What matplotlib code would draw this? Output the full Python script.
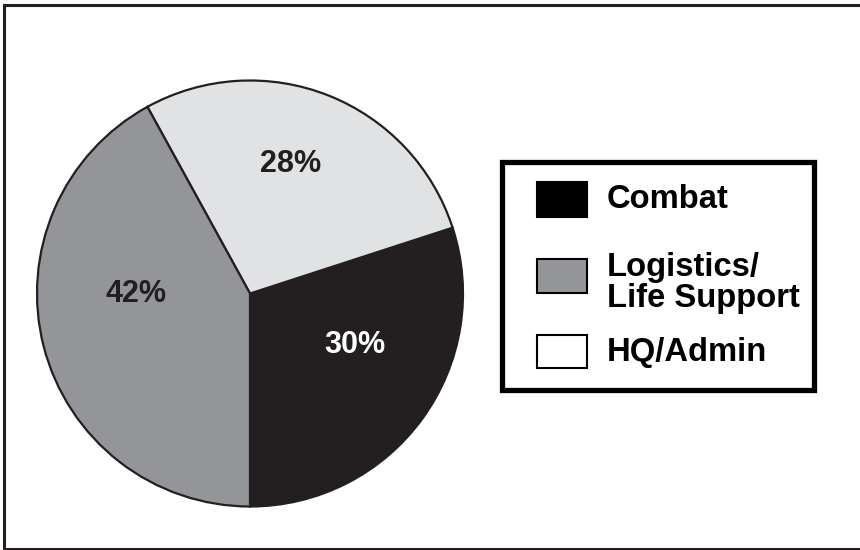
import matplotlib
matplotlib.use("Agg")
import matplotlib.pyplot as plt
from matplotlib.patches import Rectangle

categories = ["Combat", "HQ/Admin", "Logistics/\nLife Support"]
shares = [30, 28, 42]
pct_labels = ["30%", "28%", "42%"]
legend_order = ["Combat", "Logistics/\nLife Support", "HQ/Admin"]

DARK = "#231f20"
colors = {"Combat": DARK, "HQ/Admin": "#e1e2e4", "Logistics/\nLife Support": "#939598"}
legend_colors = {"Combat": "#000000", "HQ/Admin": "#ffffff", "Logistics/\nLife Support": "#939598"}
pct_colors = {"Combat": "white", "HQ/Admin": DARK, "Logistics/\nLife Support": DARK}

plt.rcParams['font.family'] = ['Liberation Sans', 'DejaVu Sans']

W, H = 860, 550
fig = plt.figure(figsize=(W / 100, H / 100), dpi=100)

# overlay in pixel coordinates
ov = fig.add_axes([0, 0, 1, 1])
ov.set_xlim(0, W)
ov.set_ylim(H, 0)
ov.axis("off")

# outer frame (open on the right)
ov.plot([W + 5, 4, 4, W + 5], [5, 5, 549, 549], color=DARK, lw=2.2,
        solid_joinstyle="miter", clip_on=False)

# pie
cx, cy, r = 250, 293.5, 213
pax = fig.add_axes([(cx - r) / W, (H - cy - r) / H, 2 * r / W, 2 * r / H])
wedges, _ = pax.pie(shares, colors=[colors[c] for c in categories], startangle=270,
                    counterclock=True, radius=1,
                    wedgeprops=dict(edgecolor=DARK, linewidth=1.6))
pax.set_xlim(-1, 1)
pax.set_ylim(-1, 1)
pax.set_aspect("equal")
pax.axis("off")

# percentage label positions (layout offsets, in pie radius units)
label_pos = {"Combat": (0.49, -0.24), "HQ/Admin": (0.19, 0.61), "Logistics/\nLife Support": (-0.535, 0.0)}
for c, p in zip(categories, pct_labels):
    x, y = label_pos[c]
    pax.text(x, y, p, ha="center", va="center", fontsize=22, fontweight="bold",
             color=pct_colors[c])

# legend box
ov.add_patch(Rectangle((502, 162), 312, 228, facecolor="white", edgecolor="#000000", lw=3.8))
sw_y = {"Combat": 182, "Logistics/\nLife Support": 259, "HQ/Admin": 335}
sw_h = {"Combat": 35, "Logistics/\nLife Support": 34, "HQ/Admin": 33}
txt_y = {"Combat": 200, "Logistics/\nLife Support": 283, "HQ/Admin": 353}
for c in legend_order:
    ov.add_patch(Rectangle((537, sw_y[c]), 50, sw_h[c], facecolor=legend_colors[c],
                           edgecolor="#000000", lw=1.5))
    ov.text(607, txt_y[c], c, ha="left", va="center", fontsize=23.6, fontweight="bold",
            color="#000000", linespacing=0.98)

fig.savefig("out.png", dpi=100)
